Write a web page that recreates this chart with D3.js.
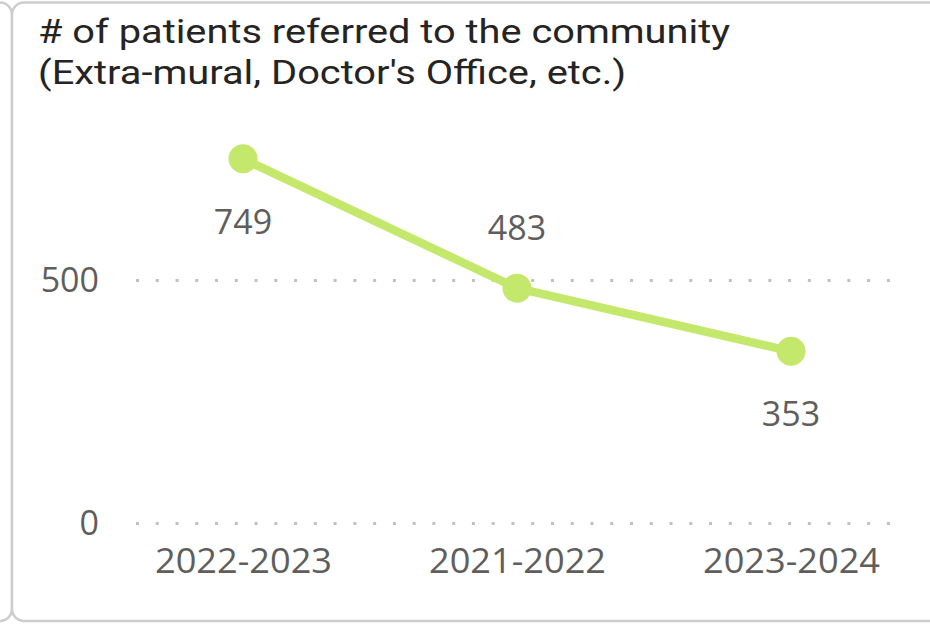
<!DOCTYPE html>
<html>
<head>
<meta charset="utf-8">
<script src="https://cdn.jsdelivr.net/npm/d3@7/dist/d3.min.js"></script>
<style>
  html, body { margin: 0; padding: 0; background: #ffffff; }
  svg { display: block; }
</style>
</head>
<body>
<svg id="chart" width="930" height="627"></svg>
<script>
// Fiscal years shown on the x axis, in display order
const categories = ["2022-2023", "2021-2022", "2023-2024"];
// Patients referred to the community per fiscal year
const referrals = [749, 483, 353];
// Y axis gridline values
const yTicks = [0, 500];
// Title lines
const titleLines = ["# of patients referred to the community", "(Extra-mural, Doctor's Office, etc.)"];

const FONT = "'Open Sans', 'Noto Sans', sans-serif";
const TITLE_FONT = "Roboto, 'Open Sans', sans-serif";
const lineColor = "#C4E86C";
const textColor = "#605E5C";

const svg = d3.select("#chart");

// Card frames: the neighbouring card's right edge and this card
svg.append("rect")
  .attr("x", -938).attr("y", 2.5).attr("width", 950).attr("height", 618.5)
  .attr("rx", 12).attr("fill", "#fff").attr("stroke", "#CDCDCD").attr("stroke-width", 2.5);
svg.append("rect")
  .attr("x", 12).attr("y", 2.5).attr("width", 950).attr("height", 618.5)
  .attr("rx", 12).attr("fill", "#fff").attr("stroke", "#CDCDCD").attr("stroke-width", 2.5);

// Title
const titleWidths = [692, 588];
svg.append("g").selectAll("text").data(titleLines).join("text")
  .attr("x", 38)
  .attr("y", (d, i) => 43 + i * 41)
  .attr("font-family", TITLE_FONT)
  .attr("font-size", 34)
  .attr("fill", "#252423")
  .attr("textLength", (d, i) => titleWidths[i])
  .attr("lengthAdjust", "spacingAndGlyphs")
  .text(d => d);

// Scales
const x = d3.scalePoint().domain(categories).range([243, 791]);
const y = d3.scaleLinear().domain([0, 800]).range([523, 134]);

// Dotted horizontal gridlines
svg.append("g").selectAll("line").data(yTicks).join("line")
  .attr("x1", 136).attr("x2", 892)
  .attr("y1", d => Math.round(y(d)) + 0.5).attr("y2", d => Math.round(y(d)) + 0.5)
  .attr("stroke", "#C2C0BE")
  .attr("stroke-width", 3)
  .attr("stroke-dasharray", "3,16.76");

// Y axis labels
const yAxis = d3.axisLeft(y).tickValues(yTicks).tickSize(0).tickPadding(0).tickFormat(d3.format("d"));
const gy = svg.append("g").attr("transform", "translate(99,0)").call(yAxis);
gy.select(".domain").remove();
gy.selectAll("text")
  .attr("font-family", FONT).attr("font-size", 34).attr("fill", textColor)
  .attr("dy", "0.34em");

// X axis labels
const xAxis = d3.axisBottom(x).tickSize(0).tickPadding(0);
const gx = svg.append("g").attr("transform", "translate(0,573)").call(xAxis);
gx.select(".domain").remove();
gx.selectAll("text")
  .attr("font-family", FONT).attr("font-size", 34).attr("fill", textColor)
  .attr("dy", 0)
  .attr("textLength", 177)
  .attr("lengthAdjust", "spacingAndGlyphs");

const points = categories.map((c, i) => ({ cat: c, value: referrals[i] }));

// Line
const line = d3.line().x(d => x(d.cat)).y(d => y(d.value));
svg.append("path")
  .datum(points)
  .attr("d", line)
  .attr("fill", "none")
  .attr("stroke", lineColor)
  .attr("stroke-width", 8.5)
  .attr("stroke-linejoin", "round");

// Markers
svg.append("g").selectAll("circle").data(points).join("circle")
  .attr("cx", d => x(d.cat))
  .attr("cy", d => y(d.value))
  .attr("r", 14.5)
  .attr("fill", lineColor);

// Data labels: above the point where the line turns up, below otherwise
const labelSide = ["below", "above", "below"];
svg.append("g").selectAll("text").data(points).join("text")
  .attr("x", d => x(d.cat))
  .attr("y", (d, i) => labelSide[i] === "above" ? y(d.value) - 48 : y(d.value) + 75)
  .attr("text-anchor", "middle")
  .attr("font-family", FONT)
  .attr("font-size", 34)
  .attr("fill", textColor)
  .text(d => d3.format("d")(d.value));
</script>
</body>
</html>
